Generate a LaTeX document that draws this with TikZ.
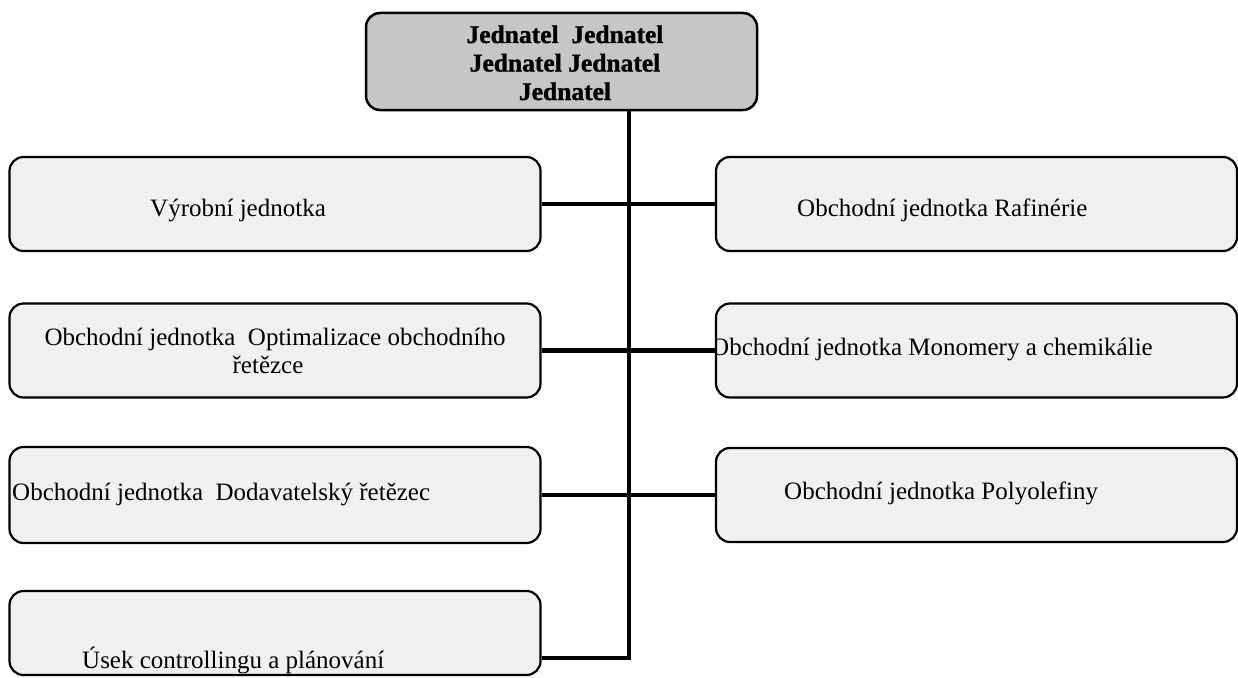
\documentclass[tikz,border=0pt]{standalone}
\usepackage{fontspec}
\setmainfont{Liberation Serif}
\newfontfamily\heavyfont[FakeBold=1.2]{Liberation Serif Bold}
\usetikzlibrary{calc}
\begin{document}
\begin{tikzpicture}[x=1pt,y=-1pt,
  box/.style={draw=black, line width=2.2pt, rounded corners=14pt, fill=gray!12, inner sep=0pt},
  topbox/.style={box, line width=2.5pt, fill=gray!45},
  lbl/.style={font=\fontsize{25}{29}\selectfont, inner sep=0pt, anchor=base west},
  clbl/.style={lbl, anchor=base},
  jlbl/.style={font=\fontsize{25.5}{28.5}\selectfont\heavyfont, inner sep=0pt, anchor=base},
  conn/.style={line width=4.5pt}]
\useasboundingbox (0,0) rectangle (1238,677);
% boxes
\node[topbox, minimum width=391pt, minimum height=97pt] (top) at (561.5,61.5) {};
\node[box, minimum width=531pt, minimum height=94pt] (l1) at (275,204) {};
\node[box, minimum width=521pt, minimum height=94pt] (r1) at (976.5,204) {};
\node[box, minimum width=531pt, minimum height=94pt] (l2) at (275,350.5) {};
\node[box, minimum width=521pt, minimum height=94pt] (r2) at (976.5,350.5) {};
\node[box, minimum width=531pt, minimum height=96pt] (l3) at (275,495) {};
\node[box, minimum width=521pt, minimum height=94pt] (r3) at (976.5,495) {};
\node[box, minimum width=531pt, minimum height=84pt] (l4) at (275,633) {};
% connectors
\coordinate (bot) at (629,658);
\draw[conn] (top.south -| bot) -- (bot) -- (l4.east |- bot);
\draw[conn] (l1.east) -- (r1.west);
\draw[conn] (l2.east) -- (r2.west);
\draw[conn] (l3.east) -- (r3.west);
% texts
\node[jlbl] (j1) at (565,43) {Jednatel~~Jednatel};
\node[jlbl] (j2) at (565,71.5) {Jednatel~Jednatel};
\node[jlbl] (j3) at (565,100) {Jednatel};
\node[lbl] (t1) at (150,216) {Výrobní jednotka};
\node[lbl] (t2) at (797,216) {Obchodní jednotka Rafinérie};
\node[clbl] (t3a) at (275,345) {Obchodní jednotka~ Optimalizace obchodního};
\node[clbl] (t3b) at (268,373) {řetězce};
\begin{scope}
  \path[clip, rounded corners=14pt] (r2.south west) rectangle (r2.north east);
  \node[lbl] (t4) at (711,355) {Obchodní jednotka Monomery a chemikálie};
\end{scope}
\node[lbl] (t5) at (12,500) {Obchodní jednotka~ Dodavatelský řetězec};
\node[lbl] (t6) at (784,499) {Obchodní jednotka Polyolefiny};
\node[lbl] (t7) at (82,668) {Úsek controllingu a plánování};
\end{tikzpicture}
\end{document}
